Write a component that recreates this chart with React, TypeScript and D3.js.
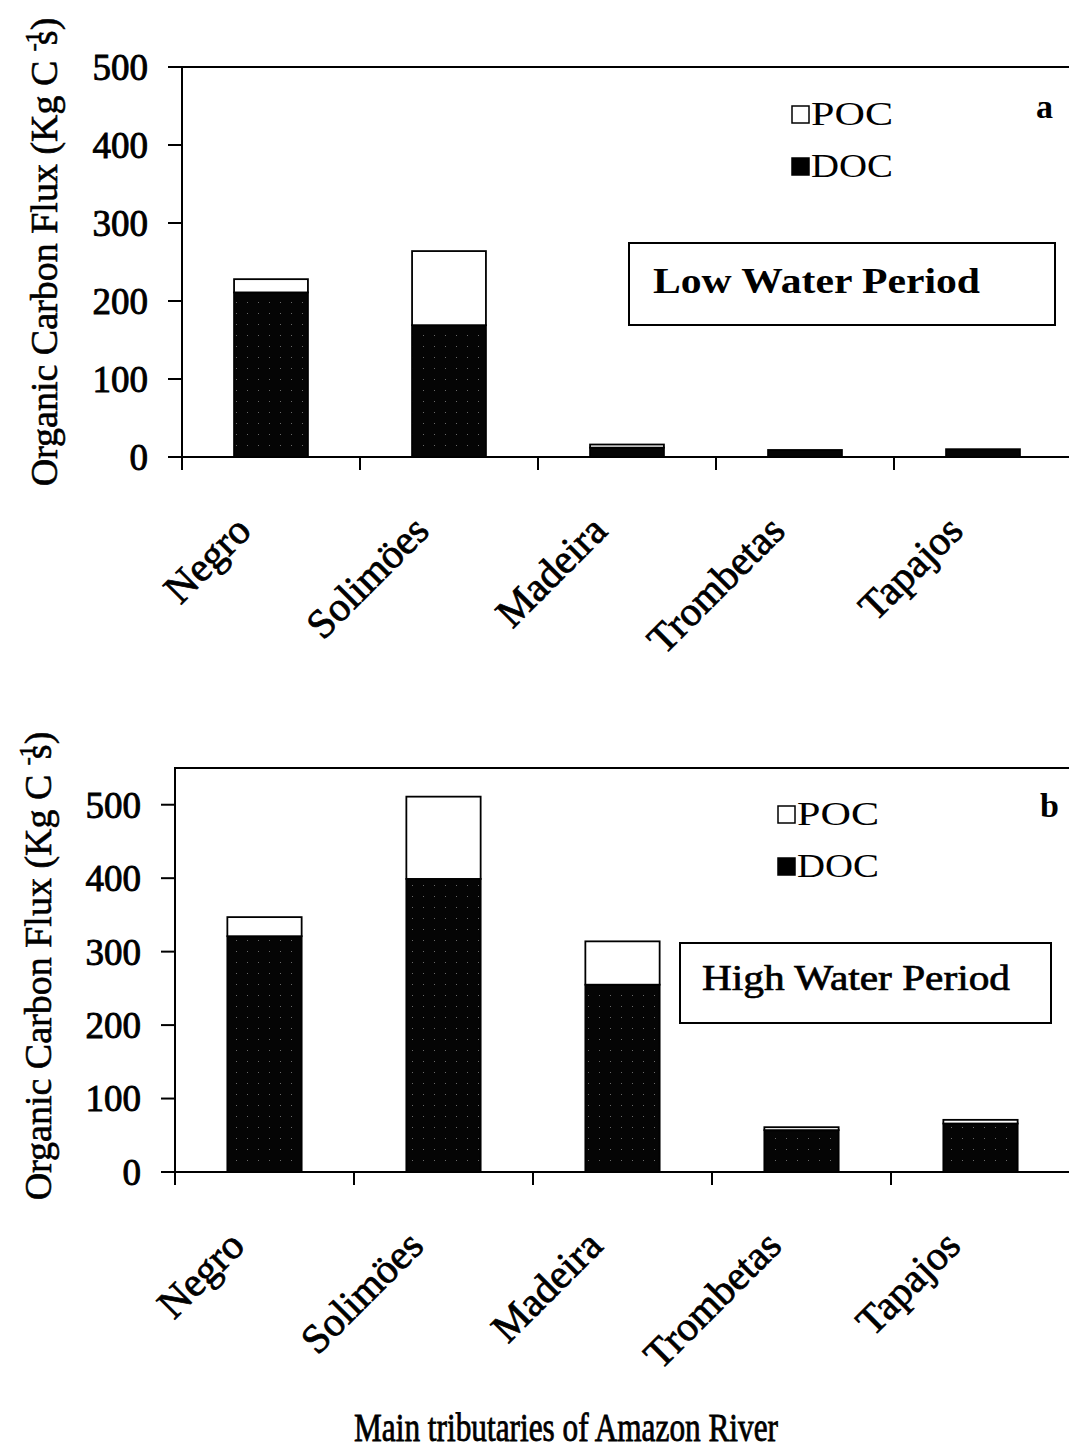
import React from "react";
import * as d3 from "d3";

// rivers along the x axis
const rivers = ["Negro", "Solimöes", "Madeira", "Trombetas", "Tapajos"];
const yTicks = [0, 100, 200, 300, 400, 500];

// low water period (kg C s-1)
const docLow = [211, 169, 12, 9, 10];
const pocLow = [17, 95, 4, 0, 0];

// high water period (kg C s-1)
const docHigh = [321, 399, 255, 57, 66];
const pocHigh = [26, 112, 59, 4, 5];

const FONT = "'Liberation Serif', 'Times New Roman', serif";

function Panel({ doc, poc, cfg }) {
  const rows = rivers.map((r, i) => ({ river: r, doc: doc[i], poc: poc[i] }));
  const stacked = d3.stack().keys(["doc", "poc"])(rows);

  const x = d3.scaleBand().domain(rivers).range([cfg.left, cfg.right]).padding(0);
  const y = d3.scaleLinear().domain([0, cfg.yMax]).range([cfg.zero, cfg.top]);
  const barW = x.bandwidth() * 0.415;
  const boundaries = rivers.map((r) => x(r));

  return (
    <g>
      {/* frame */}
      <rect x={cfg.left} y={cfg.top} width={cfg.right - cfg.left} height={cfg.zero - cfg.top}
        fill="none" stroke="#000" strokeWidth={2} />

      {/* bars */}
      {stacked.map((layer) => (
        <g key={layer.key}>
          {layer.map((d, i) => {
            const h = y(d[0]) - y(d[1]);
            if (h <= 0) return null;
            const cx = x(rivers[i]) + x.bandwidth() / 2;
            return (
              <rect key={i} x={cx - barW / 2} y={y(d[1])} width={barW} height={h}
                fill={layer.key === "doc" ? "url(#stipple)" : "#fff"}
                stroke="#000" strokeWidth={1.8} />
            );
          })}
        </g>
      ))}

      {/* y axis */}
      <line x1={cfg.left} x2={cfg.left} y1={cfg.top} y2={cfg.zero + 13} stroke="#000" strokeWidth={2} />
      {yTicks.map((t) => (
        <g key={t}>
          <line x1={cfg.left - 14} x2={cfg.left} y1={y(t)} y2={y(t)} stroke="#000" strokeWidth={2} />
          <text x={cfg.labelX} y={y(t)} dy="0.35em" textAnchor="end" fontFamily={FONT}
            fontSize={37} stroke="#000" strokeWidth={0.9}>{t}</text>
        </g>
      ))}

      {/* x axis */}
      <line x1={cfg.left} x2={cfg.right} y1={cfg.zero} y2={cfg.zero} stroke="#000" strokeWidth={2.2} />
      {boundaries.map((bx, i) => (
        <line key={i} x1={bx} x2={bx} y1={cfg.zero} y2={cfg.zero + 13} stroke="#000" strokeWidth={2} />
      ))}
      {rivers.map((r) => {
        const px = x(r) + x.bandwidth() / 2 - 18;
        const py = cfg.zero + 76;
        return (
          <text key={r} transform={`translate(${px},${py}) rotate(-45)`} textAnchor="end"
            fontFamily={FONT} fontSize={41} stroke="#000" strokeWidth={0.8}>{r}</text>
        );
      })}

      {/* y title */}
      <text transform={`translate(${cfg.titleX},${cfg.titleY}) rotate(-90)`} textAnchor="middle"
        fontFamily={FONT} fontSize={38} stroke="#000" strokeWidth={0.6}>
        Organic Carbon Flux (Kg C <tspan fontSize={24} dy={-16}>-1</tspan><tspan dy={16} dx={-14}>s)</tspan>
      </text>

      {/* legend */}
      <rect x={cfg.legX} y={cfg.legY - 19} width={17} height={17} fill="#fff" stroke="#000" strokeWidth={1.5} />
      <text x={cfg.legX + 19} y={cfg.legY} fontFamily={FONT} fontSize={33} textLength={82}
        lengthAdjust="spacingAndGlyphs">POC</text>
      <rect x={cfg.legX} y={cfg.legY + 33} width={17} height={17} fill="#000" stroke="#000" strokeWidth={1.5} />
      <text x={cfg.legX + 19} y={cfg.legY + 52} fontFamily={FONT} fontSize={33} textLength={82}
        lengthAdjust="spacingAndGlyphs">DOC</text>

      {/* panel letter */}
      <text x={cfg.letterX} y={cfg.letterY} fontFamily={FONT} fontSize={34} fontWeight="bold">{cfg.letter}</text>

      {/* period box */}
      <rect x={cfg.box[0]} y={cfg.box[1]} width={cfg.box[2]} height={cfg.box[3]} fill="#fff"
        stroke="#000" strokeWidth={2} />
      <text x={cfg.boxText[0]} y={cfg.boxText[1]} fontFamily={FONT} fontSize={36}
        fontWeight={cfg.boxBold ? "bold" : "normal"} stroke="#000" strokeWidth={cfg.boxBold ? 0 : 0.7}
        textLength={cfg.boxText[2]} lengthAdjust="spacingAndGlyphs">{cfg.period}</text>
    </g>
  );
}

const panelA = {
  top: 67, zero: 457, left: 182, right: 1072, yMax: 500, labelX: 148,
  titleX: 57, titleY: 252, legX: 792, legY: 125, letter: "a", letterX: 1036, letterY: 118,
  box: [629, 243, 426, 82], boxText: [653, 293, 327], boxBold: true, period: "Low Water Period",
};

const panelB = {
  top: 768, zero: 1172, left: 175, right: 1070, yMax: 550, labelX: 141,
  titleX: 51, titleY: 966, legX: 778, legY: 825, letter: "b", letterX: 1040, letterY: 817,
  box: [680, 943, 371, 80], boxText: [702, 990, 308], boxBold: false, period: "High Water Period",
};

export default function App() {
  return (
    <svg width={1069} height={1454} style={{ position: "absolute", left: 0, top: 0, background: "#fff" }}>
      <defs>
        <pattern id="stipple" width={11} height={11} patternUnits="userSpaceOnUse">
          <rect width={11} height={11} fill="#050505" />
          <rect x={5} y={5} width={1} height={1} fill="#6a6a6a" />
        </pattern>
      </defs>
      <rect width={1069} height={1454} fill="#fff" />
      <Panel doc={docLow} poc={pocLow} cfg={panelA} />
      <Panel doc={docHigh} poc={pocHigh} cfg={panelB} />
      <text x={566} y={1441} textAnchor="middle" fontFamily={FONT} fontSize={39} stroke="#000"
        strokeWidth={0.8} textLength={424} lengthAdjust="spacingAndGlyphs">Main tributaries of Amazon River</text>
    </svg>
  );
}
